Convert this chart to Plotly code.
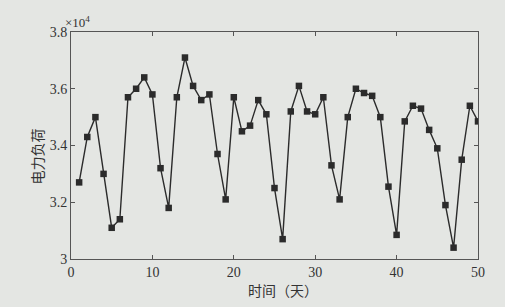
import plotly.graph_objects as go

days = list(range(1, 51))
load = [3.27, 3.43, 3.50, 3.30, 3.11, 3.14, 3.57, 3.60, 3.64, 3.58,
        3.32, 3.18, 3.57, 3.71, 3.61, 3.56, 3.58, 3.37, 3.21, 3.57,
        3.45, 3.47, 3.56, 3.51, 3.25, 3.07, 3.52, 3.61, 3.52, 3.51,
        3.57, 3.33, 3.21, 3.50, 3.60, 3.585, 3.575, 3.50, 3.255, 3.085,
        3.485, 3.54, 3.53, 3.455, 3.39, 3.19, 3.04, 3.35, 3.54, 3.485]
x_ticks = [0, 10, 20, 30, 40, 50]
y_ticks = [3.0, 3.2, 3.4, 3.6, 3.8]
y_tick_text = ["3", "3.2", "3.4", "3.6", "3.8"]

ink = "#2b2b2b"
bg = "#e4e6e3"
serif = "Liberation Serif, Times New Roman, serif"
cjk = "Noto Sans CJK SC"

fig = go.Figure(go.Scatter(
    x=days, y=load, mode="lines+markers",
    line=dict(color=ink, width=1.4),
    marker=dict(symbol="square", size=6.5, color=ink),
))

axis_common = dict(showgrid=False, zeroline=False, showline=True, linecolor="#555",
                   linewidth=1, mirror="ticks", ticks="inside", ticklen=4,
                   tickcolor="#555", tickfont=dict(family=serif, size=14, color="#333"))

fig.update_layout(
    width=505, height=307,
    margin=dict(l=71, r=27, t=32, b=48),
    paper_bgcolor=bg, plot_bgcolor=bg,
    showlegend=False,
    xaxis=dict(range=[0, 50], tickvals=x_ticks, **axis_common),
    yaxis=dict(range=[3.0, 3.8], tickvals=y_ticks, ticktext=y_tick_text, **axis_common),
    annotations=[
        dict(text="×10<sup>4</sup>", xref="paper", yref="paper", x=-0.02, y=1.0,
             xanchor="left", yanchor="bottom", showarrow=False,
             font=dict(family=serif, size=13, color="#333")),
        dict(text="电力负荷", xref="paper", yref="paper", x=-0.055, y=0.45,
             xanchor="right", yanchor="middle", showarrow=False, textangle=-90,
             font=dict(family=cjk, size=14, color="#333")),
        dict(text="时间（天）", xref="paper", yref="paper", x=0.52, y=-0.085,
             xanchor="center", yanchor="top", showarrow=False,
             font=dict(family=cjk, size=14, color="#333")),
    ],
)

fig.write_html("out.html")
